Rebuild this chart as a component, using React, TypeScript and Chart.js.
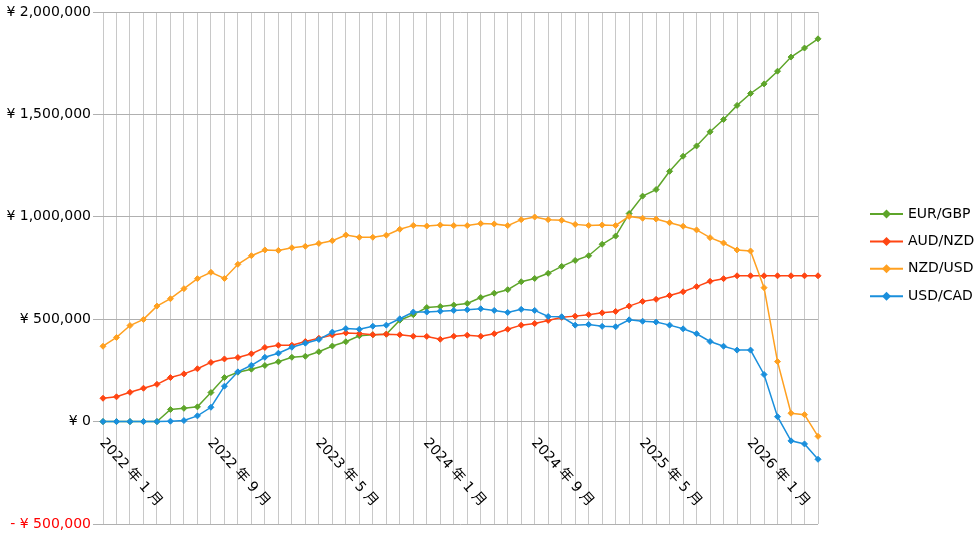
import React, { useEffect, useRef } from 'react';
import Chart from 'chart.js/auto';

// Monthly labels, Jan 2022 .. Jun 2026
const months: string[] = [];
for (let y = 2022; y <= 2026; y++) {
  for (let m = 1; m <= 12; m++) {
    if (months.length < 54) months.push(`${y} 年 ${m} 月`);
  }
}

const eurGbp = [
  0, 0, 0, 0, 0, 59000, 65000, 72000, 142000, 215000,
  241000, 256000, 274000, 292000, 314000, 319000, 341000, 369000, 390000, 419000,
  424000, 427000, 495000, 522000, 557000, 562000, 569000, 577000, 606000, 627000,
  644000, 683000, 699000, 724000, 758000, 787000, 810000, 866000, 906000, 1016000,
  1101000, 1133000, 1222000, 1296000, 1346000, 1415000, 1475000, 1544000, 1602000, 1649000,
  1711000, 1780000, 1824000, 1869000,
];

const audNzd = [
  114000, 121000, 143000, 163000, 182000, 215000, 233000, 258000, 289000, 306000,
  313000, 331000, 362000, 373000, 373000, 391000, 407000, 423000, 433000, 430000,
  424000, 427000, 424000, 417000, 416000, 402000, 417000, 422000, 417000, 429000,
  451000, 471000, 479000, 494000, 509000, 515000, 522000, 531000, 538000, 564000,
  587000, 597000, 616000, 634000, 659000, 685000, 698000, 712000, 712000, 712000,
  712000, 712000, 712000, 712000,
];

const nzdUsd = [
  368000, 411000, 469000, 499000, 564000, 600000, 649000, 698000, 729000, 699000,
  768000, 810000, 838000, 836000, 849000, 856000, 870000, 883000, 911000, 900000,
  900000, 910000, 939000, 958000, 955000, 960000, 957000, 957000, 967000, 965000,
  957000, 986000, 999000, 986000, 983000, 963000, 958000, 960000, 958000, 1002000,
  993000, 989000, 971000, 954000, 936000, 898000, 872000, 838000, 833000, 654000,
  293000, 41000, 34000, -72000,
];

const usdCad = [
  0, 0, 0, 0, 0, 2000, 5000, 28000, 70000, 173000,
  243000, 275000, 314000, 334000, 363000, 383000, 401000, 437000, 454000, 451000,
  466000, 471000, 502000, 535000, 535000, 539000, 543000, 546000, 551000, 543000,
  533000, 548000, 543000, 513000, 512000, 471000, 474000, 465000, 463000, 497000,
  490000, 486000, 471000, 453000, 429000, 391000, 368000, 349000, 349000, 230000,
  24000, -94000, -109000, -184000,
];

const seriesNames = ['EUR/GBP', 'AUD/NZD', 'NZD/USD', 'USD/CAD'];
const seriesColors = ['#5ea52a', '#ff4512', '#ffa020', '#1a8fdc'];
const seriesData = [eurGbp, audNzd, nzdUsd, usdCad];

const FONT = '"DejaVu Sans", "Noto Sans CJK JP", sans-serif';

const formatYen = (v: number) =>
  v < 0 ? `- ¥ ${Math.abs(v).toLocaleString('en-US')}` : `¥ ${v.toLocaleString('en-US')}`;

// rotated month labels hanging below the zero line
const monthLabels = {
  id: 'monthLabels',
  afterDraw(chart: any) {
    const { ctx, scales } = chart;
    const y0 = scales.y.getPixelForValue(0);
    ctx.save();
    ctx.font = `14px ${FONT}`;
    ctx.fillStyle = '#000';
    ctx.textAlign = 'left';
    ctx.textBaseline = 'middle';
    months.forEach((label, i) => {
      if (i % 8 !== 0) return;
      ctx.save();
      ctx.translate(scales.x.getPixelForValue(i) - 1, y0 + 19);
      ctx.rotate((48 * Math.PI) / 180);
      ctx.fillText(label, 0, 0);
      ctx.restore();
    });
    ctx.restore();
  },
};

// legend with line + diamond marker
const lineLegend = {
  id: 'lineLegend',
  afterDraw(chart: any) {
    const { ctx } = chart;
    ctx.save();
    ctx.font = `14px ${FONT}`;
    ctx.textAlign = 'left';
    ctx.textBaseline = 'middle';
    seriesNames.forEach((name, i) => {
      const y = 214 + i * 27.4;
      ctx.strokeStyle = seriesColors[i];
      ctx.lineWidth = 2;
      ctx.beginPath();
      ctx.moveTo(870, y);
      ctx.lineTo(903, y);
      ctx.stroke();
      ctx.fillStyle = seriesColors[i];
      ctx.beginPath();
      ctx.moveTo(886.5, y - 4.5);
      ctx.lineTo(891, y);
      ctx.lineTo(886.5, y + 4.5);
      ctx.lineTo(882, y);
      ctx.closePath();
      ctx.fill();
      ctx.fillStyle = '#000';
      ctx.fillText(name, 908, y);
    });
    ctx.restore();
  },
};

const App: React.FC = () => {
  const chartRef = useRef<HTMLCanvasElement>(null);
  const chartInstance = useRef<Chart | null>(null);

  useEffect(() => {
    if (!chartRef.current) return;
    if (chartInstance.current) chartInstance.current.destroy();

    chartInstance.current = new Chart(chartRef.current, {
      type: 'line',
      data: {
        labels: months,
        datasets: seriesNames.map((name, i) => ({
          label: name,
          data: seriesData[i],
          borderColor: seriesColors[i],
          backgroundColor: seriesColors[i],
          pointBackgroundColor: seriesColors[i],
          pointBorderColor: seriesColors[i],
          borderWidth: 1.5,
          pointStyle: 'rectRot',
          pointRadius: 3,
          pointBorderWidth: 1,
          tension: 0,
          order: seriesNames.length - i,
        })),
      },
      options: {
        responsive: true,
        maintainAspectRatio: false,
        animation: false,
        layout: { padding: { top: 12, right: 162, left: 0, bottom: 0 } },
        plugins: {
          legend: { display: false },
          tooltip: { enabled: false },
        },
        scales: {
          x: {
            ticks: { display: false, autoSkip: false },
            grid: { color: '#c8c8c8', drawTicks: false },
            border: { display: false },
            afterFit: (s: any) => {
              s.height = 13;
            },
          },
          y: {
            min: -500000,
            max: 2000000,
            ticks: {
              stepSize: 500000,
              padding: 2,
              font: { family: FONT, size: 14 },
              color: (c: any) => (c.tick && c.tick.value < 0 ? '#ff0000' : '#000'),
              callback: (v: any) => formatYen(Number(v)),
            },
            grid: { color: '#b0b0b0', tickLength: 10 },
            border: { display: false },
            afterFit: (s: any) => {
              s.width = 103;
            },
          },
        },
      },
      plugins: [monthLabels, lineLegend],
    });

    return () => {
      if (chartInstance.current) {
        chartInstance.current.destroy();
        chartInstance.current = null;
      }
    };
  }, []);

  return (
    <div style={{ position: 'fixed', left: 0, top: 0, width: 980, height: 537, background: '#fff' }}>
      <canvas ref={chartRef}></canvas>
    </div>
  );
};

export default App;
